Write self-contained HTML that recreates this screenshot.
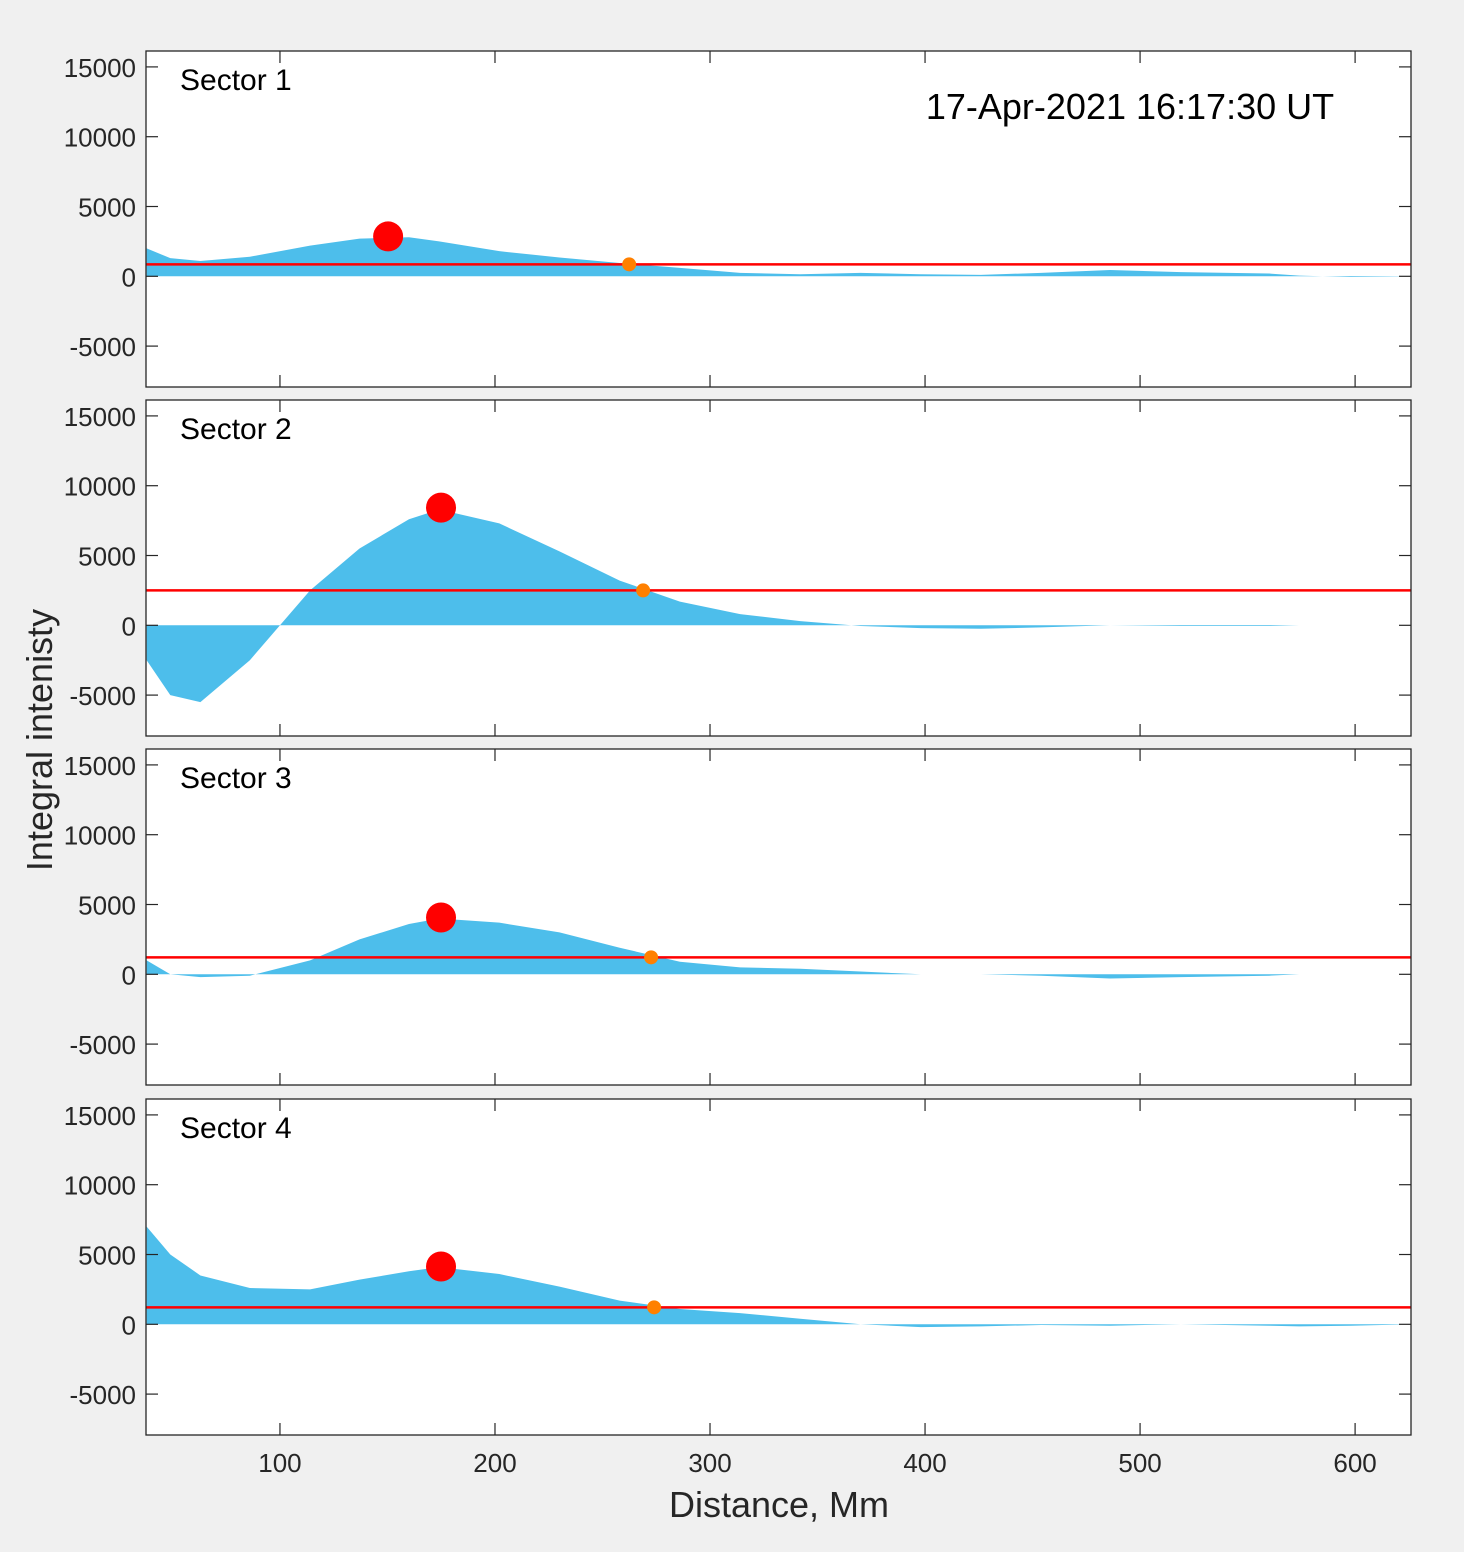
<!DOCTYPE html>
<html><head><meta charset="utf-8">
<style>
html,body{margin:0;padding:0;background:#f0f0f0;}
svg{display:block;font-family:"Liberation Sans",Arial,sans-serif;}
</style></head>
<body>
<svg id="fig" width="1464" height="1552" viewBox="0 0 1464 1552" xmlns="http://www.w3.org/2000/svg">
<rect width="1464" height="1552" fill="#f0f0f0"/>
<text x="52" y="740" font-size="36" text-anchor="middle" transform="rotate(-90 52 740)" fill="#262626">Integral intenisty</text>
<text x="779" y="1517" font-size="36" text-anchor="middle" fill="#262626">Distance, Mm</text>
</svg>
<script>
const distances = [38,49,63,86,114,137,160,174,202,230,258,286,314,342,370,398,426,454,486,519,560,574,598,626];
const sector1 = [2000,1300,1100,1400,2200,2700,2800,2500,1800,1350,950,600,250,150,250,150,100,250,450,300,200,50,-50,0];
const sector2 = [-2500,-5000,-5500,-2500,2500,5500,7600,8300,7300,5300,3200,1700,800,300,-50,-200,-250,-150,0,-50,-50,0,0,0];
const sector3 = [1000,0,-200,-100,1000,2500,3600,4000,3700,3000,1900,900,500,400,200,0,0,-100,-300,-200,-100,0,0,0];
const sector4 = [7000,5000,3500,2600,2500,3200,3800,4100,3600,2700,1700,1100,800,400,0,-200,-150,-50,-100,0,-100,-150,-100,0];
const thresholds = [857,2500,1214,1214];
const peakX = [150.3,174.9,174.9,174.9];
const peakY = [2857,8430,4070,4140];
const edgeX = [262.4,268.9,272.6,274];
const xTicks = [100,200,300,400,500,600];
const yTicks = [-5000,0,5000,10000,15000];
const sectorNames = ["Sector 1","Sector 2","Sector 3","Sector 4"];
const series = [sector1,sector2,sector3,sector4];

const NS="http://www.w3.org/2000/svg";
const svg=document.getElementById('fig');
const L=146,R=1411,XMIN=37.7,XMAX=626;
const tops=[51,400,749,1099], H=336;
const YMIN=-7930,YMAX=16140;
function mk(t,a,p){const e=document.createElementNS(NS,t);for(const k in a)e.setAttribute(k,a[k]);(p||svg).appendChild(e);return e;}
const xs=v=>L+(v-XMIN)/(XMAX-XMIN)*(R-L);
series.forEach((data,i)=>{
  const top=tops[i],bot=top+H;
  const ys=v=>bot-(v-YMIN)/(YMAX-YMIN)*H;
  const g=mk('g',{});
  
  
  const bg=mk('rect',{x:L,y:top,width:R-L,height:H,fill:'#fff'},g);
  
  
  let d='M'+xs(distances[0])+','+ys(0);
  distances.forEach((x,j)=>{d+=' L'+xs(x)+','+ys(data[j]);});
  d+=' L'+xs(distances[distances.length-1])+','+ys(0)+' Z';
  const area=mk('path',{d:d,fill:'#4dbeeb',stroke:'none'},g);
  
  
  const th=mk('line',{x1:L,x2:R,y1:ys(thresholds[i]),y2:ys(thresholds[i]),stroke:'#ff0000','stroke-width':2.5},g);
  
  
  const pk=mk('circle',{cx:xs(peakX[i]),cy:ys(peakY[i]),r:15,fill:'#ff0000'},g);
  
  
  const ed=mk('circle',{cx:xs(edgeX[i]),cy:ys(thresholds[i]),r:7,fill:'#ff8000'},g);
  
  
  xTicks.forEach(t=>{
    mk('line',{x1:xs(t),x2:xs(t),y1:bot,y2:bot-12,stroke:'#262626','stroke-width':1.2},g);
    mk('line',{x1:xs(t),x2:xs(t),y1:top,y2:top+12,stroke:'#262626','stroke-width':1.2},g);
    if(i===3){const tl=mk('text',{x:xs(t),y:bot+37,'font-size':26,'text-anchor':'middle',fill:'#262626'},g);tl.textContent=t;
      
      }
  });
  yTicks.forEach(t=>{
    mk('line',{x1:L,x2:L+12,y1:ys(t),y2:ys(t),stroke:'#262626','stroke-width':1.2},g);
    mk('line',{x1:R,x2:R-12,y1:ys(t),y2:ys(t),stroke:'#262626','stroke-width':1.2},g);
    const tl=mk('text',{x:136,y:ys(t)+10,'font-size':26,'text-anchor':'end',fill:'#262626'},g);tl.textContent=t;
    
    
  });
  mk('rect',{x:L,y:top,width:R-L,height:H,fill:'none',stroke:'#262626','stroke-width':1.3},g);
  const lab=mk('text',{x:180,y:top+39,'font-size':30,fill:'#000'},g);lab.textContent=sectorNames[i];
  
  
});
const ts=mk('text',{x:1130,y:119,'font-size':36,'text-anchor':'middle',fill:'#000'});
ts.textContent='17-Apr-2021 16:17:30 UT';


</script>
</body></html>
